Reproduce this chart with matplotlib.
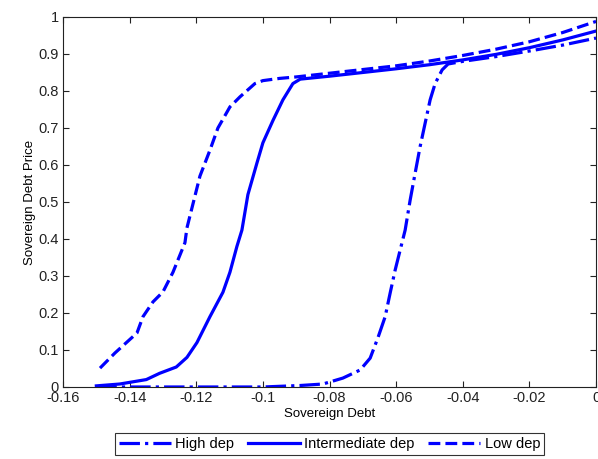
import matplotlib
matplotlib.use("Agg")
import matplotlib.pyplot as plt

plt.rcParams["font.family"] = ["Liberation Sans", "DejaVu Sans"]

# Sovereign debt (x) and price (y) for each dependence level
high_debt = [-0.150, -0.120, -0.100, -0.0888, -0.082, -0.076, -0.0708, -0.0678, -0.0654,
             -0.0633, -0.0618, -0.0603, -0.0588, -0.0573, -0.0558, -0.0543, -0.0528,
             -0.0513, -0.0498, -0.0483, -0.0462, -0.0444, -0.040, -0.030, -0.020, -0.010, 0.0]
high_price = [0.0, 0.0, 0.0, 0.004, 0.008, 0.024, 0.046, 0.078, 0.135,
              0.19, 0.254, 0.316, 0.37, 0.424, 0.505, 0.578, 0.65,
              0.713, 0.776, 0.82, 0.857, 0.873, 0.880, 0.893, 0.908, 0.924, 0.943]

inter_debt = [-0.150, -0.143, -0.135, -0.131, -0.126, -0.1228, -0.1198, -0.1159, -0.112,
              -0.1099, -0.1078, -0.1063, -0.1045, -0.1018, -0.100, -0.097, -0.094,
              -0.091, -0.0888, -0.080, -0.070, -0.060, -0.050, -0.040, -0.030, -0.020,
              -0.010, 0.0]
inter_price = [0.003, 0.008, 0.02, 0.037, 0.054, 0.08, 0.12, 0.19, 0.256,
               0.31, 0.38, 0.424, 0.52, 0.605, 0.66, 0.72, 0.776,
               0.82, 0.832, 0.840, 0.850, 0.860, 0.871, 0.884, 0.899, 0.917,
               0.938, 0.962]

low_debt = [-0.1489, -0.1444, -0.1378, -0.136, -0.133, -0.130, -0.127, -0.1234, -0.1228,
            -0.1189, -0.1159, -0.1135, -0.1099, -0.1069, -0.1024, -0.100, -0.095,
            -0.090, -0.080, -0.070, -0.060, -0.050, -0.040, -0.030, -0.020, -0.010, 0.0]
low_price = [0.051, 0.092, 0.146, 0.19, 0.23, 0.257, 0.31, 0.39, 0.43,
             0.57, 0.64, 0.70, 0.757, 0.784, 0.82, 0.828, 0.834,
             0.838, 0.848, 0.858, 0.868, 0.881, 0.896, 0.913, 0.933, 0.958, 0.988]


def main() -> None:
    fig = plt.figure(figsize=(5.98, 4.59), dpi=100)
    ax = fig.add_axes([0.1054, 0.1569, 0.8913, 0.8061])

    blue = (0, 0, 1)
    ax.plot(high_debt, high_price, color=blue, lw=2.3, linestyle="-.", label="High dep")
    ax.plot(inter_debt, inter_price, color=blue, lw=2.3, linestyle="-", label="Intermediate dep")
    ax.plot(low_debt, low_price, color=blue, lw=2.3, linestyle="--", label="Low dep")

    ax.set_xlim(-0.16, 0)
    ax.set_ylim(0, 1)
    ax.set_xticks([-0.16, -0.14, -0.12, -0.1, -0.08, -0.06, -0.04, -0.02, 0])
    ax.set_xticklabels(["-0.16", "-0.14", "-0.12", "-0.1", "-0.08", "-0.06", "-0.04", "-0.02", "0"])
    ax.set_yticks([0, 0.1, 0.2, 0.3, 0.4, 0.5, 0.6, 0.7, 0.8, 0.9, 1])
    ax.set_yticklabels(["0", "0.1", "0.2", "0.3", "0.4", "0.5", "0.6", "0.7", "0.8", "0.9", "1"])
    ax.tick_params(direction="in", top=True, right=True, length=4, labelsize=10.5,
                   colors="#222222", pad=3)
    for spine in ax.spines.values():
        spine.set_linewidth(0.8)
        spine.set_color("#222222")

    ax.set_xlabel("Sovereign Debt", fontsize=9.5, labelpad=2)
    ax.set_ylabel("Sovereign Debt Price", fontsize=9.5, labelpad=2)

    leg = fig.legend(loc="center", bbox_to_anchor=(0.551, 0.0327), ncol=3,
                     fontsize=10.5, frameon=True, fancybox=False, edgecolor="black",
                     handlelength=3.6, columnspacing=0.9, handletextpad=0.3,
                     borderpad=0.25, borderaxespad=0)
    leg.get_frame().set_linewidth(0.8)

    fig.savefig("out.png", dpi=100)


if __name__ == "__main__":
    main()
